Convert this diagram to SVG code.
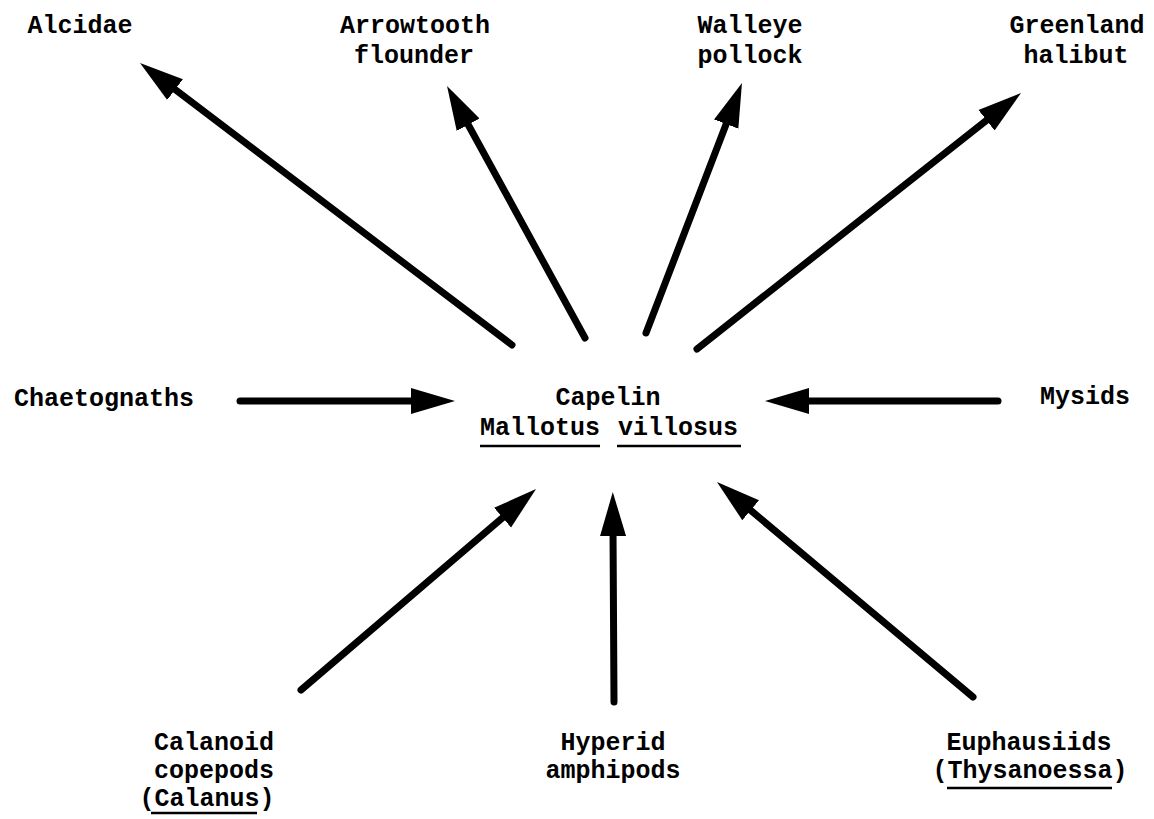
<svg xmlns="http://www.w3.org/2000/svg" width="1154" height="819" viewBox="0 0 1154 819">
  <style>
    text { font-family: "Liberation Mono", "Courier New", monospace; font-weight: bold; font-size: 25px; fill: #000; text-anchor: middle; }
    .arrow { stroke: #000; stroke-width: 7; stroke-linecap: round; fill: none; marker-end: url(#head); }
    .ul { stroke: #000; stroke-width: 2.5; }
  </style>
  <defs>
    <marker id="head" markerUnits="userSpaceOnUse" markerWidth="46" markerHeight="30" viewBox="0 -15 46 30" refX="7" refY="0" orient="auto">
      <path d="M0,-13 L44,0 L0,13 Z" fill="#000"/>
    </marker>
  </defs>
  <rect width="1154" height="819" fill="#fff"/>

  <!-- predators -->
  <g id="alcidae"><text x="80" y="33">Alcidae</text></g>
  <g id="arrowtooth"><text x="415" y="33">Arrowtooth</text><text x="414" y="63">flounder</text></g>
  <g id="walleye"><text x="750" y="33">Walleye</text><text x="750" y="63">pollock</text></g>
  <g id="greenland"><text x="1077" y="33">Greenland</text><text x="1076" y="63">halibut</text></g>

  <!-- centre: capelin -->
  <g id="capelin">
    <text x="608" y="405">Capelin</text>
    <text x="540" y="435">Mallotus</text>
    <text x="678" y="435">villosus</text>
    <line class="ul" x1="480" y1="446" x2="600" y2="446"/>
    <line class="ul" x1="617" y1="446" x2="741" y2="446"/>
  </g>

  <!-- prey -->
  <g id="chaetognaths"><text x="104" y="406">Chaetognaths</text></g>
  <g id="mysids"><text x="1085" y="404">Mysids</text></g>
  <g id="calanoid">
    <text x="214" y="750">Calanoid</text>
    <text x="214" y="778">copepods</text>
    <text x="207" y="806">(Calanus)</text>
    <line class="ul" x1="151" y1="813" x2="257" y2="813"/>
  </g>
  <g id="hyperid"><text x="613" y="750">Hyperid</text><text x="613" y="778">amphipods</text></g>
  <g id="euphausiids">
    <text x="1029" y="750">Euphausiids</text>
    <text x="1030" y="778">(Thysanoessa)</text>
    <line class="ul" x1="947" y1="788" x2="1112" y2="788"/>
  </g>

  <!-- feeding links -->
  <g id="connectors">
    <line class="arrow" x1="512" y1="345" x2="169.5" y2="85.3"/>
    <line class="arrow" x1="585" y1="338" x2="464.8" y2="118.5"/>
    <line class="arrow" x1="646" y1="333" x2="728.7" y2="117.5"/>
    <line class="arrow" x1="697" y1="349" x2="992" y2="115.9"/>
    <line class="arrow" x1="240" y1="401" x2="418" y2="401"/>
    <line class="arrow" x1="998" y1="401" x2="802" y2="401"/>
    <line class="arrow" x1="301" y1="690" x2="507.9" y2="513.1"/>
    <line class="arrow" x1="614" y1="702" x2="613" y2="529"/>
    <line class="arrow" x1="973" y1="697" x2="745.3" y2="505.8"/>
  </g>
</svg>
